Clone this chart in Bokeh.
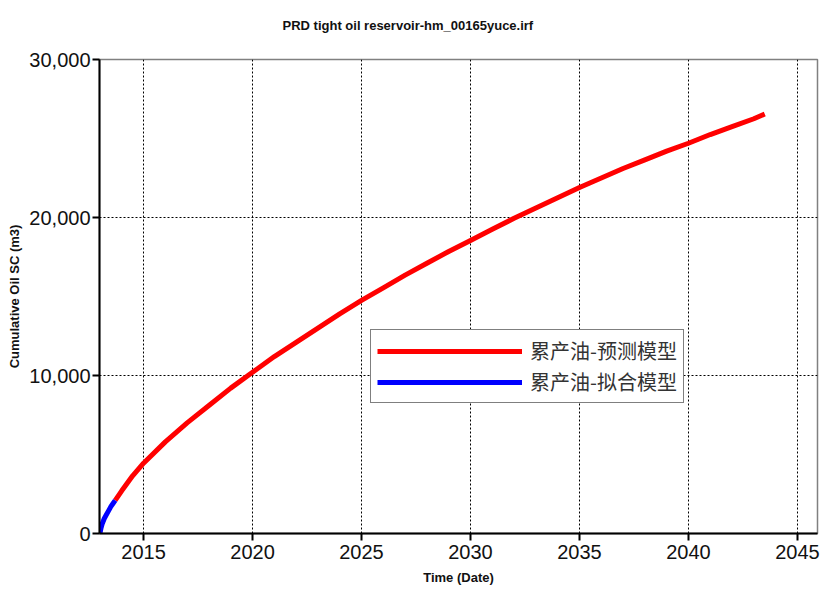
from bokeh.plotting import figure
from bokeh.models import NumeralTickFormatter, FixedTicker, Legend, LegendItem, Title
from bokeh.embed import file_html
from bokeh.resources import INLINE

TITLE = "PRD tight oil reservoir-hm_00165yuce.irf"

# Fitted (history-match) segment
fit_years = [2013.0, 2013.05, 2013.1, 2013.2, 2013.3, 2013.4, 2013.5, 2013.6, 2013.7]
fit_cum = [0, 350, 600, 950, 1200, 1450, 1700, 1900, 2100]

# Forecast segment
pred_years = [2013.7, 2014.0, 2014.5, 2015, 2016, 2017, 2018, 2019, 2020, 2021, 2022, 2023,
              2024, 2025, 2026, 2027, 2028, 2029, 2030, 2031, 2032, 2033, 2034, 2035,
              2036, 2037, 2038, 2039, 2040, 2041, 2042, 2043, 2043.5]
pred_cum = [2100, 2700, 3650, 4450, 5800, 7000, 8100, 9200, 10200, 11200, 12100, 13000,
            13900, 14750, 15550, 16350, 17100, 17850, 18550, 19250, 19950, 20600, 21250, 21900,
            22500, 23100, 23650, 24200, 24700, 25250, 25750, 26250, 26550]

x_ticks = [2015, 2020, 2025, 2030, 2035, 2040, 2045]
y_ticks = [0, 10000, 20000, 30000]

p = figure(width=822, height=589, output_backend="svg", toolbar_location=None,
           x_range=(2012.98, 2045.92), y_range=(0, 30000),
           min_border_left=99, min_border_right=5, min_border_top=59, min_border_bottom=56)

# spacer (nearest the frame), then the real title above it
p.add_layout(Title(text=" ", text_font_size="13px", standoff=5, align="left"), "above")
p.add_layout(Title(text=TITLE, align="left", offset=183,
                   text_font="Liberation Sans", text_font_size="13px",
                   text_font_style="bold", text_color="#111111"), "above")

p.outline_line_color = "#808080"
p.outline_line_width = 1.5
p.background_fill_color = "white"

for ax in (p.xaxis[0], p.yaxis[0]):
    ax.axis_line_color = "black"
    ax.axis_line_width = 2
    ax.major_tick_line_color = "black"
    ax.major_tick_line_width = 2
    ax.major_tick_out = 7
    ax.major_tick_in = 0
    ax.minor_tick_line_color = None
    ax.major_label_text_font = "Liberation Sans"
    ax.major_label_text_font_size = "20px"
    ax.major_label_text_color = "#111111"
    ax.axis_label_text_font = "Liberation Sans"
    ax.axis_label_text_font_size = "13px"
    ax.axis_label_text_font_style = "bold"
    ax.axis_label_text_color = "#111111"

p.xaxis.ticker = FixedTicker(ticks=x_ticks)
p.yaxis.ticker = FixedTicker(ticks=y_ticks)
p.yaxis.formatter = NumeralTickFormatter(format="0,0")
p.xaxis.axis_label = "Time (Date)"
p.yaxis.axis_label = "Cumulative Oil SC (m3)"
p.xaxis.major_label_standoff = 4
p.yaxis.major_label_standoff = 2
p.xaxis.axis_label_standoff = 8
p.yaxis.axis_label_standoff = 4

for g in (p.xgrid[0], p.ygrid[0]):
    g.grid_line_color = "black"
    g.grid_line_dash = "2 2"
    g.grid_line_width = 1

r_pred = p.line(pred_years, pred_cum, line_color="#ff0000", line_width=5)
r_fit = p.line(fit_years, fit_cum, line_color="#0000ff", line_width=5)

legend = Legend(items=[LegendItem(label="累产油-预测模型", renderers=[r_pred]),
                       LegendItem(label="累产油-拟合模型", renderers=[r_fit])],
                location=(271, 130))
legend.label_text_font = "Noto Sans CJK SC"
legend.label_text_font_size = "20px"
legend.label_text_color = "#333333"
legend.glyph_width = 145
legend.glyph_height = 22
legend.label_height = 22
legend.label_standoff = 8
legend.spacing = 2
legend.padding = 6
legend.margin = 0
legend.border_line_color = "black"
legend.border_line_width = 1
legend.background_fill_alpha = 1
p.add_layout(legend)

open("out.html", "w").write(file_html(p, INLINE))
